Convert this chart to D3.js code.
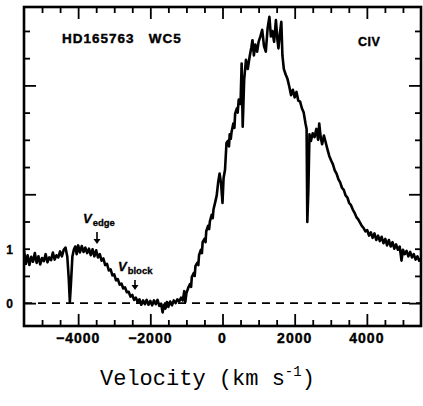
<!DOCTYPE html>
<html><head><meta charset="utf-8">
<script src="https://cdn.jsdelivr.net/npm/d3@7"></script>
<style>body{margin:0;background:#fff}svg{display:block}</style>
</head><body>
<script>
// ---- data ----
const velocity = [-5500,-5450,-5400,-5350,-5300,-5250,-5200,-5150,-5100,-5050,-5000,-4950,-4900,-4850,-4800,-4750,-4700,-4650,-4600,-4550,-4500,-4450,-4400,-4350,-4300,-4260,-4230,-4200,-4160,-4120,-4080,-4040,-4000,-3950,-3900,-3850,-3800,-3750,-3700,-3650,-3600,-3550,-3500,-3450,-3400,-3350,-3300,-3250,-3200,-3150,-3100,-3050,-3000,-2950,-2900,-2850,-2800,-2750,-2700,-2650,-2600,-2550,-2500,-2450,-2400,-2350,-2300,-2250,-2200,-2150,-2100,-2050,-2000,-1950,-1900,-1850,-1800,-1750,-1700,-1660,-1620,-1580,-1540,-1500,-1450,-1400,-1350,-1300,-1250,-1200,-1150,-1100,-1060,-1030,-1000,-950,-900,-870,-850,-800,-770,-750,-700,-670,-650,-600,-570,-550,-500,-470,-450,-400,-370,-350,-300,-270,-250,-200,-160,-120,-80,-40,0,30,70,110,150,180,200,230,250,300,330,350,400,420,450,500,530,560,600,650,700,750,800,830,870,910,960,1000,1050,1100,1150,1200,1250,1300,1340,1380,1430,1480,1520,1550,1590,1630,1660,1700,1750,1800,1850,1900,1950,2000,2050,2100,2150,2200,2250,2300,2330,2350,2380,2410,2450,2500,2550,2600,2650,2680,2720,2760,2810,2860,2910,2960,3010,3060,3110,3160,3210,3260,3310,3360,3410,3460,3510,3560,3610,3660,3710,3760,3810,3860,3910,3960,4010,4060,4110,4160,4210,4260,4310,4360,4410,4460,4510,4560,4610,4660,4710,4760,4810,4860,4910,4960,5000,5050,5100,5150,5200,5250,5300,5350,5400,5450,5500];
const flux = [0.97,0.72,0.88,0.70,0.85,0.76,0.92,0.74,0.86,0.71,0.83,0.77,0.90,0.75,0.84,0.79,0.93,0.80,0.88,0.84,0.95,0.86,0.98,1.02,0.85,0.45,0.02,0.35,0.85,0.98,1.04,0.90,1.06,0.93,1.05,0.94,1.02,0.92,1.00,0.88,0.99,0.86,0.97,0.84,0.90,0.78,0.82,0.70,0.72,0.60,0.62,0.51,0.53,0.42,0.44,0.34,0.36,0.27,0.29,0.20,0.21,0.12,0.15,0.06,0.10,0.02,0.07,-0.03,0.05,-0.02,0.06,-0.03,0.04,-0.04,0.05,-0.02,0.06,-0.05,-0.01,-0.17,-0.03,-0.10,0.02,-0.07,0.03,-0.04,0.05,0.00,0.07,0.03,0.10,0.05,0.22,0.02,0.18,0.28,0.35,0.30,0.48,0.55,0.50,0.68,0.74,0.70,0.88,0.98,0.92,1.12,1.18,1.12,1.32,1.42,1.36,1.50,1.62,1.56,1.72,1.86,1.98,2.22,2.38,2.20,1.84,2.30,2.45,2.94,2.98,2.88,3.10,3.02,3.14,3.30,3.22,3.48,3.58,3.50,3.74,3.66,4.40,3.24,4.10,4.47,4.30,4.52,4.70,4.83,4.55,4.75,4.62,4.80,4.90,5.02,4.72,4.62,5.05,5.26,4.90,5.00,4.80,5.20,4.85,4.68,4.95,5.17,4.55,4.30,4.20,4.12,3.98,3.82,3.92,3.78,3.88,3.72,3.70,3.58,3.50,3.30,3.20,1.49,2.10,3.10,2.98,3.12,3.05,3.20,3.00,3.30,3.05,2.92,3.08,2.95,2.82,2.70,2.62,2.55,2.44,2.38,2.28,2.22,2.12,2.08,1.98,1.94,1.84,1.80,1.72,1.66,1.58,1.54,1.48,1.42,1.38,1.32,1.34,1.24,1.30,1.20,1.28,1.16,1.24,1.14,1.22,1.10,1.18,1.06,1.16,1.04,1.12,1.00,1.08,0.98,1.04,0.78,0.98,0.90,0.96,0.86,0.94,0.84,0.90,0.80,0.86,0.78,0.82];
const xTickLabels = [-4000,-2000,0,2000,4000];
const yTickLabels = [0,1];
const xDomain = [-5500,5500];
const yDomain = [-0.42,5.44];

// ---- layout ----
const W = 423, H = 406;
const L = 24, R = 421, T = 7, B = 326;
const svg = d3.select("body").append("svg").attr("width",W).attr("height",H);
const x = d3.scaleLinear().domain(xDomain).range([L,R]);
const y = d3.scaleLinear().domain(yDomain).range([B,T]);
const bold = "'Liberation Sans', Arial, sans-serif";

// zero dashed line
svg.append("line").attr("x1",L).attr("x2",R).attr("y1",y(0)).attr("y2",y(0))
  .attr("stroke","#000").attr("stroke-width",1.8).attr("stroke-dasharray","8,6");

// spectrum
const pts = velocity.map((v,i)=>[v,flux[i]]);
svg.append("path").datum(pts)
  .attr("d", d3.line().x(d=>x(d[0])).y(d=>y(d[1])))
  .attr("fill","none").attr("stroke","#000").attr("stroke-width",2.6)
  .attr("stroke-linejoin","round");

// axes (ticks inward on all 4 sides)
const xMinor = d3.range(-5500,5501,500).filter(v=>v>xDomain[0]&&v<xDomain[1]);
const xMajorSet = new Set(xTickLabels);
const yMinor = d3.range(0,5.01,0.5);
const yMajorSet = new Set([0,2,4]);
const g = svg.append("g");
function addAxis(axisFn, scale, vals, isMajor, transform){
  const ax = axisFn(scale).tickValues(vals).tickFormat("").tickSizeOuter(0)
    .tickSize(-6);
  const gg = g.append("g").attr("transform",transform).call(ax);
  gg.selectAll(".tick line").attr("stroke","#000").attr("stroke-width",1.8)
    .each(function(d){ if(isMajor(d)){ const el=d3.select(this); if(el.attr("y2")!==null && +el.attr("y2")!==0) el.attr("y2", (+el.attr("y2"))*2); if(el.attr("x2")!==null && +el.attr("x2")!==0) el.attr("x2",(+el.attr("x2"))*2);} });
  gg.select(".domain").remove();
}
addAxis(d3.axisBottom, x, xMinor, d=>xMajorSet.has(d), `translate(0,${B})`);
addAxis(d3.axisTop, x, xMinor, d=>xMajorSet.has(d), `translate(0,${T})`);
addAxis(d3.axisLeft, y, yMinor, d=>yMajorSet.has(d), `translate(${L},0)`);
addAxis(d3.axisRight, y, yMinor, d=>yMajorSet.has(d), `translate(${R},0)`);

// frame
svg.append("rect").attr("x",L).attr("y",T).attr("width",R-L).attr("height",B-T)
  .attr("fill","none").attr("stroke","#000").attr("stroke-width",2.6);

// tick labels
svg.append("g").selectAll("text").data(xTickLabels).join("text")
  .attr("x",d=>x(d)).attr("y",B+17).attr("text-anchor","middle")
  .attr("font-family",bold).attr("font-weight","bold").attr("font-size",14)
  .attr("letter-spacing",1).attr("stroke","#000").attr("stroke-width",0.4)
  .text(d=>d<0?"\u2212"+Math.abs(d):String(d));
svg.append("g").selectAll("text").data(yTickLabels).join("text")
  .attr("x",13).attr("y",d=>y(d)+5).attr("text-anchor","end")
  .attr("font-family",bold).attr("font-weight","bold").attr("font-size",12)
  .attr("stroke","#000").attr("stroke-width",0.3)
  .text(d=>String(d));

// titles
svg.append("text").attr("x",62).attr("y",43).attr("font-family",bold).attr("font-weight","bold")
  .attr("font-size",13.5).attr("letter-spacing",1).attr("stroke","#000").attr("stroke-width",0.4)
  .attr("xml:space","preserve").text("HD165763   WC5");
svg.append("text").attr("x",358).attr("y",46).attr("font-family",bold).attr("font-weight","bold")
  .attr("font-size",12.5).attr("letter-spacing",0.5).attr("stroke","#000").attr("stroke-width",0.4).text("CIV");

// annotations
function ann(vx, labelY, sub, arrowX, ay1, ay2){
  const t = svg.append("text").attr("x",vx).attr("y",labelY).attr("font-family",bold).attr("font-weight","bold")
    .attr("stroke","#000").attr("stroke-width",0.3);
  t.append("tspan").attr("font-size",13).attr("font-style","italic").text("V");
  t.append("tspan").attr("font-size",9.5).attr("dy",3).attr("dx",1).text(sub);
  svg.append("line").attr("x1",arrowX).attr("x2",arrowX).attr("y1",ay1).attr("y2",ay2-3)
    .attr("stroke","#000").attr("stroke-width",1.6);
  svg.append("path").attr("d",`M${arrowX-3.5},${ay2-5} L${arrowX+3.5},${ay2-5} L${arrowX},${ay2} Z`).attr("fill","#000");
}
ann(83, 223, "edge", 97, 232, 244);
ann(118, 271, "block", 135, 280, 290);

// x axis title
const xt = svg.append("text").attr("x",100).attr("y",385)
  .attr("font-family","'Liberation Mono','DejaVu Sans Mono',monospace").attr("font-size",22);
xt.append("tspan").text("Velocity (km s");
xt.append("tspan").attr("font-size",14).attr("dy",-9).text("-1");
xt.append("tspan").attr("dy",9).text(")");
</script>
</body></html>
